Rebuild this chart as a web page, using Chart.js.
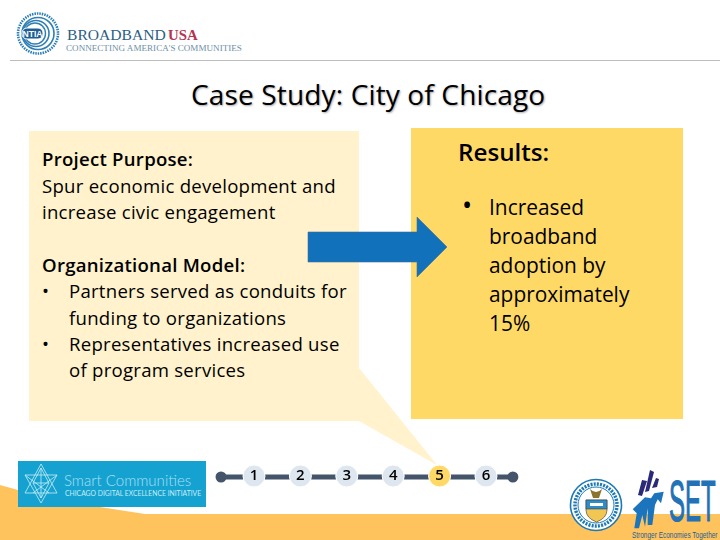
<!DOCTYPE html>
<html><head><meta charset="utf-8">
<script src="https://cdn.jsdelivr.net/npm/chart.js@4"></script>
<style>
html,body{margin:0;padding:0;background:#fff;width:720px;height:540px;overflow:hidden}
#slide{position:absolute;left:0;top:0;width:720px;height:540px;overflow:hidden;font-family:"Open Sans",sans-serif;color:#000}
svg.bg{position:absolute;left:0;top:0}
.t{position:absolute;white-space:nowrap;line-height:1;transform:translateY(-50%)}
.l{font-size:18.6px;letter-spacing:0.25px}
.r{font-size:20.9px}
b{font-weight:600}
#wrap{position:absolute;left:210px;top:456px;width:315px;height:40px}
</style></head><body>
<div id="slide">
<svg class="bg" width="720" height="540" viewBox="0 0 720 540">
  <!-- bottom band -->
  <polygon points="0,485 18,490 100,507 145,514 720,514 720,540 0,540" fill="#FFC35E"/>
  <!-- header -->
  <line x1="10" y1="60.5" x2="720" y2="60.5" stroke="#bdbdbd" stroke-width="1"/>
  <g fill="none" stroke="#2f7fb5">
    <circle cx="38" cy="33.5" r="20" stroke-width="2.6" stroke-dasharray="1.5 1"/>
    <circle cx="38" cy="33.5" r="16" stroke-width="1.6"/>
    <circle cx="36" cy="33.5" r="13" stroke-width="1.6"/>
    <circle cx="35" cy="33.5" r="10.5" stroke-width="1.4"/>
  </g>
  <rect x="22" y="28" width="21" height="11" rx="5" fill="#1d5f96" stroke="#fff" stroke-width="1"/>
  <text x="32.5" y="37" font-family="Liberation Sans" font-weight="700" font-size="8.6" fill="#fff" text-anchor="middle">NTIA</text>
  <text font-family="Liberation Serif" font-size="15" fill="#2d5f85" transform="translate(67,40) scale(1.04,1)">BROADBAND</text>
  <text font-family="Liberation Serif" font-weight="700" font-size="15" fill="#b5344f" transform="translate(168,40) scale(.99,1)">USA</text>
  <text font-family="Liberation Serif" font-size="8.5" fill="#6d90a8" transform="translate(66,50.5) scale(1.07,1)">CONNECTING AMERICA'S COMMUNITIES</text>
  <!-- boxes -->
  <rect x="29" y="131" width="330" height="290" fill="#FFF2CC"/>
  <polygon points="359,368 437,465 359,421" fill="#FFF2CC"/>
  <rect x="411" y="128" width="272" height="291" fill="#FFD966"/>
  <!-- arrow -->
  <polygon points="308,232 417,232 417,217 447,247 417,277 417,262 308,262" fill="#1271BB" stroke="#3f6f9c" stroke-width="0.6"/>
  <!-- smart communities banner -->
  <rect x="18" y="461" width="188" height="46" fill="#16A2D1"/>
  <g fill="none" stroke="#c6eef8" stroke-width="0.8">
    <polygon points="41,464 57,493 25,493"/>
    <polygon points="41,503 25,475 57,475"/>
    <polygon points="41,468 49,483 41,498 33,483"/>
    <line x1="25" y1="475" x2="49" y2="493"/><line x1="57" y1="475" x2="33" y2="493"/>
    <line x1="33" y1="483" x2="49" y2="483"/><line x1="41" y1="468" x2="41" y2="498"/>
  </g>
  <text font-family="Lato" font-weight="300" font-size="16" fill="#a8e0f2" transform="translate(64,486) scale(.94,1)">Smart Communities</text>
  <text font-family="Lato" font-size="6.6" fill="#c6eef8" transform="translate(65,495.5) scale(1.03,1)">CHICAGO DIGITAL EXCELLENCE INITIATIVE</text>
  <!-- seal -->
  <circle cx="596" cy="505" r="25.5" fill="#fff" stroke="#1d79b5" stroke-width="1.6"/>
  <circle cx="596" cy="505" r="21" fill="none" stroke="#1d79b5" stroke-width="3.5" stroke-dasharray="2 1.2"/>
  <circle cx="596" cy="505" r="18" fill="#fff" stroke="#1d79b5" stroke-width="1"/>
  <path d="M586,500 h21 v10 q0,8 -10.500,12 q-10.500,-4 -10.500,-12z" fill="#f1c653" stroke="#333" stroke-width="0.6"/>
  <rect x="586" y="500" width="21" height="9" fill="#2f8cc8" stroke="#333" stroke-width="0.5"/>
  <rect x="590" y="503" width="13" height="3" fill="#fff"/>
  <path d="M590,489 q6,6 12,0 l-3,9 h-6z" fill="#8a7430"/>
  <!-- SET logo -->
  <g fill="#2a2a78">
    <polygon points="638,495 642,480 647,481 642,496"/>
    <polygon points="645,492 650,470 654,472 649,491"/>
    <polygon points="652,488 656,478 659,479 657,487"/>
  </g>
  <polygon points="632.700,509.300 645,497.300 651,498.300 654.300,493.300 663.700,491.700 661,503.300 657.700,499.300 655,505 652.300,525 647.700,525 647.700,508.300 645,526.700 642.300,515 639,528.300 634.300,528.300 636.700,513.300" fill="#1c75bc"/>
  <text font-family="Liberation Sans" font-size="24" stroke="#2272b5" stroke-width="0.5" fill="#2272b5" transform="translate(669,520.500) scale(1.0,2.4)">SET</text>
  <text font-family="Liberation Sans" font-size="9" fill="#1c5f94" transform="translate(632,537.500) scale(.72,1.05)">Stronger Economies Together</text>
</svg>

<div class="t" style="left:191px;top:94px;font-size:28px;letter-spacing:.15px;text-shadow:1px 1px 2px #aaa">Case Study: City of Chicago</div>

<div class="t l" style="left:42px;top:159px"><b>Project Purpose:</b></div>
<div class="t l" style="left:42px;top:186px">Spur economic development and</div>
<div class="t l" style="left:42px;top:212px">increase civic engagement</div>
<div class="t l" style="left:42px;top:265px"><b>Organizational Model:</b></div>
<div class="t l" style="left:42px;top:291px">•</div>
<div class="t l" style="left:69px;top:291px">Partners served as conduits for</div>
<div class="t l" style="left:69px;top:318px">funding to organizations</div>
<div class="t l" style="left:42px;top:344px">•</div>
<div class="t l" style="left:69px;top:344px">Representatives increased use</div>
<div class="t l" style="left:69px;top:370px">of program services</div>

<div class="t" style="left:458px;top:152px;font-size:24.2px"><b>Results:</b></div>
<div class="t" style="left:462px;top:204px;font-size:27px">•</div>
<div class="t r" style="left:489px;top:207px">Increased</div>
<div class="t r" style="left:489px;top:236px">broadband</div>
<div class="t r" style="left:489px;top:265px">adoption by</div>
<div class="t r" style="left:489px;top:294px">approximately</div>
<div class="t r" style="left:489px;top:323px">15%</div>

<div id="wrap"><canvas id="c"></canvas></div>
</div>
<script>
const stepLabels = ['1','2','3','4','5','6'];
const stepPositions = [1,2,3,4,5,6];
const stepLevel = [0,0,0,0,0,0];
const stepColors = ['#DEE6F0','#DEE6F0','#DEE6F0','#DEE6F0','#FFD966','#DEE6F0'];
const trackPositions = [0.29,6.58];
const trackLevel = [-1,-1];

const stepLabelPlugin = {
  id:'stepLabelPlugin',
  afterDatasetsDraw(chart){
    const {ctx} = chart, pts = chart.getDatasetMeta(1).data;
    ctx.save();
    ctx.font = '600 15px "Open Sans"';
    ctx.fillStyle = '#000';
    ctx.textAlign = 'center';
    ctx.textBaseline = 'middle';
    pts.forEach((p,i)=>ctx.fillText(stepLabels[i],p.x,p.y));
    ctx.restore();
  }
};

new Chart(document.getElementById('c'),{
  type:'scatter',
  data:{datasets:[
    {order:2,data:trackPositions.map((x,i)=>({x,y:trackLevel[i]})),showLine:true,clip:false,borderColor:'#44546A',borderWidth:5,
     pointRadius:5.5,pointBackgroundColor:'#44546A',pointBorderWidth:0},
    {order:1,data:stepPositions.map((x,i)=>({x,y:stepLevel[i]})),showLine:false,clip:false,
     pointRadius:11,pointBackgroundColor:stepColors,pointBorderColor:'#fff',pointBorderWidth:1}
  ]},
  options:{
    responsive:true,maintainAspectRatio:false,animation:false,
    layout:{padding:0,autoPadding:false},
    plugins:{legend:{display:false},tooltip:{enabled:false},title:{display:false}},
    scales:{
      x:{type:'linear',display:false,min:0.052,max:6.841},
      y:{type:'linear',display:false,min:-20,max:20}
    }
  },
  plugins:[stepLabelPlugin]
});
</script>
</body></html>
